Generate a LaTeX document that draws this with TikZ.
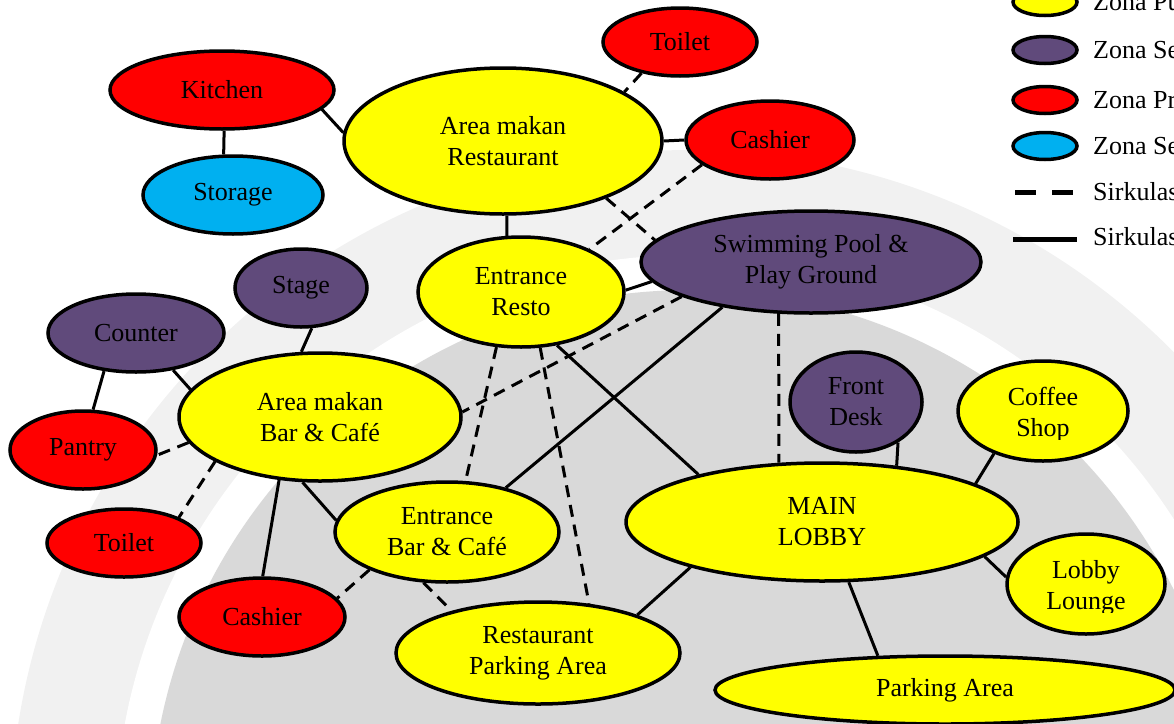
\documentclass[tikz,border=0pt]{standalone}
\usepackage{fontspec}
\setmainfont{Liberation Serif}
\usetikzlibrary{shapes.geometric,calc}

\definecolor{zpub}{HTML}{FFFF00}
\definecolor{zsemi}{HTML}{604A7B}
\definecolor{zpriv}{HTML}{FF0000}
\definecolor{zserv}{HTML}{00B0F0}
\definecolor{wmdark}{HTML}{D9D9D9}
\definecolor{wmlight}{HTML}{F1F1F1}

\pgfdeclarelayer{wm}
\pgfdeclarelayer{edges}
\pgfsetlayers{wm,edges,main}

\begin{document}
\begin{tikzpicture}[x=1pt,y=-1pt,
  zone/.style={ellipse, draw=black, line width=3.5pt, inner sep=0pt,
    align=center, font=\fontsize{26}{31}\selectfont},
  pub/.style={zone, fill=zpub},
  semi/.style={zone, fill=zsemi},
  priv/.style={zone, fill=zpriv},
  serv/.style={zone, fill=zserv},
  label text/.style={inner sep=0pt, align=center, font=\fontsize{26}{31}\selectfont},
  walk/.style={line width=3pt},
  svc/.style={line width=3pt, dash pattern=on 12pt off 8pt},
  key/.style={ellipse, draw=black, line width=3.5pt, inner sep=0pt,
    minimum width=64pt, minimum height=27pt},
  keytext/.style={anchor=west, inner sep=0pt, font=\fontsize{26}{31}\selectfont},
]
\useasboundingbox (0,0) rectangle (1174,723);

% faint emblem in the background
\begin{pgfonlayer}{wm}
  \fill[wmlight] (690,830) circle (680);
  \fill[white] (690,830) circle (575);
  \fill[wmdark] (690,830) circle (540);
\end{pgfonlayer}

% restaurant cluster
\node[priv, minimum width=224pt, minimum height=78pt] (kitchen) at (222,90) {Kitchen};
\node[serv, minimum width=180pt, minimum height=78pt] (storage) at (233,195) {Storage};
\node[pub, minimum width=318pt, minimum height=146pt] (arearest) at (503,141) {Area makan\\Restaurant};
\node[priv, minimum width=154pt, minimum height=68pt] (toiletT) at (680,42) {Toilet};
\node[priv, minimum width=168pt, minimum height=78pt] (cashierT) at (770,140) {Cashier};
\node[pub, minimum width=206pt, minimum height=110pt] (entresto) at (521,292) {Entrance\\Resto};
\node[semi, minimum width=340pt, minimum height=102pt] (pool) at (811,262) {Swimming Pool \&\\Play Ground};

% bar and cafe cluster
\node[semi, minimum width=132pt, minimum height=78pt] (stage) at (301,288) {Stage};
\node[semi, minimum width=176pt, minimum height=78pt] (counter) at (136,333) {Counter};
\node[priv, minimum width=146pt, minimum height=78pt] (pantry) at (83,450) {Pantry};
\node[pub, minimum width=282pt, minimum height=128pt] (barcafe) at (320,417) {Area makan\\Bar \& Café};
\node[priv, minimum width=154pt, minimum height=68pt] (toiletL) at (124,543) {Toilet};
\node[priv, minimum width=166pt, minimum height=78pt] (cashierB) at (262,617) {Cashier};
\node[pub, minimum width=224pt, minimum height=100pt] (entbar) at (447,532) {Entrance\\Bar \& Café};
\node[pub, minimum width=284pt, minimum height=102pt] (restpark) at (538,653) {Restaurant\\Parking Area};

% lobby cluster
\node[pub, minimum width=392pt, minimum height=118pt] (lobby) at (822,522) {MAIN\\LOBBY};
\node[semi, minimum width=132pt, minimum height=100pt] (frontdesk) at (856,402) {Front\\Desk};
\node[pub, minimum width=170pt, minimum height=100pt] (coffee) at (1043,411) {};
\node[pub, minimum width=158pt, minimum height=100pt] (lounge) at (1086,584) {};
\node[pub, minimum width=460pt, minimum height=68pt] (parking) at (945,690) {Parking Area};

% the two small lobby rooms have their text box cut at the bottom
\begin{scope}
  \clip ($(coffee.center)+(-80,-45)$) rectangle ($(coffee.center)+(80,28)$);
  \node[label text] (coffeetext) at ($(coffee.center)+(0,4)$) {Coffee\\Shop};
\end{scope}
\begin{scope}
  \clip ($(lounge.center)+(-75,-45)$) rectangle ($(lounge.center)+(75,28)$);
  \node[label text] (loungetext) at ($(lounge.center)+(0,4)$) {Lobby\\Lounge};
\end{scope}

% legend
\node[key, fill=zpub]  (kpub)  at (1045,2) {};
\node[key, fill=zsemi] (ksemi) at (1045,50) {};
\node[key, fill=zpriv] (kpriv) at (1045,100) {};
\node[key, fill=zserv] (kserv) at (1045,146) {};
\node[keytext] (tpub)  at (1093,2)   {Zona Publik};
\node[keytext] (tsemi) at (1093,50)  {Zona Semi Publik};
\node[keytext] (tpriv) at (1093,100) {Zona Privat};
\node[keytext] (tserv) at (1093,146) {Zona Servis};
\node[keytext] (tsvc)  at (1093,192) {Sirkulasi Servis};
\node[keytext] (twalk) at (1093,239) {Sirkulasi Pengunjung};
\coordinate (dA) at (1015,192);
\coordinate (dB) at (1074,192);
\coordinate (sA) at (1013,239);
\coordinate (sB) at (1077,239);
\draw[line width=5pt, dash pattern=on 21pt off 16pt] (dA) -- (dB);
\draw[line width=5pt] (sA) -- (sB);

% circulation links
\begin{pgfonlayer}{edges}
  \draw[walk] (kitchen.-87) -- (storage.103);
  \draw[walk] (kitchen.-11) -- (arearest.177);
  \draw[svc]  (toiletT.-141) -- (arearest.22);
  \draw[walk] (arearest.0) -- (cashierT.180);
  \draw[walk] (arearest.-87) -- (entresto.104);
  \draw[svc]  (cashierT.-160) -- (entresto.32);
  \draw[svc]  (arearest.-29) -- (pool.172);
  \draw[walk] (entresto.1) -- (pool.187);
  \draw[svc]  (pool.-165) -- (barcafe.2);
  \draw[walk] (pool.-153) -- (entbar.37);
  \draw[svc]  (pool.-122) -- (lobby.126);
  \draw[walk] (entresto.-56) -- (lobby.159);
  \draw[svc]  (entresto.-114) -- (entbar.70);
  \draw[svc]  (entresto.-71) -- (restpark.44);
  \draw[walk] (lobby.37) -- (frontdesk.-44);
  \draw[walk] (lobby.14) -- (coffee.-139);
  \draw[walk] (lobby.-12) -- (lounge.175);
  \draw[walk] (lobby.-66) -- (parking.153);
  \draw[walk] (lobby.-161) -- (restpark.21);
  \draw[walk] (barcafe.-105) -- (entbar.174);
  \draw[walk] (barcafe.-123) -- (cashierB.89);
  \draw[svc]  (entbar.-154) -- (cashierB.14);
  \draw[svc]  (entbar.-115) -- (restpark.154);
  \draw[svc]  (barcafe.-157) -- (toiletL.25);
  \draw[svc]  (barcafe.-169) -- (pantry.-4);
  \draw[walk] (counter.-130) -- (pantry.76);
  \draw[walk] (counter.-45) -- (barcafe.168);
  \draw[walk] (stage.-75) -- (barcafe.106);
\end{pgfonlayer}
\end{tikzpicture}
\end{document}
